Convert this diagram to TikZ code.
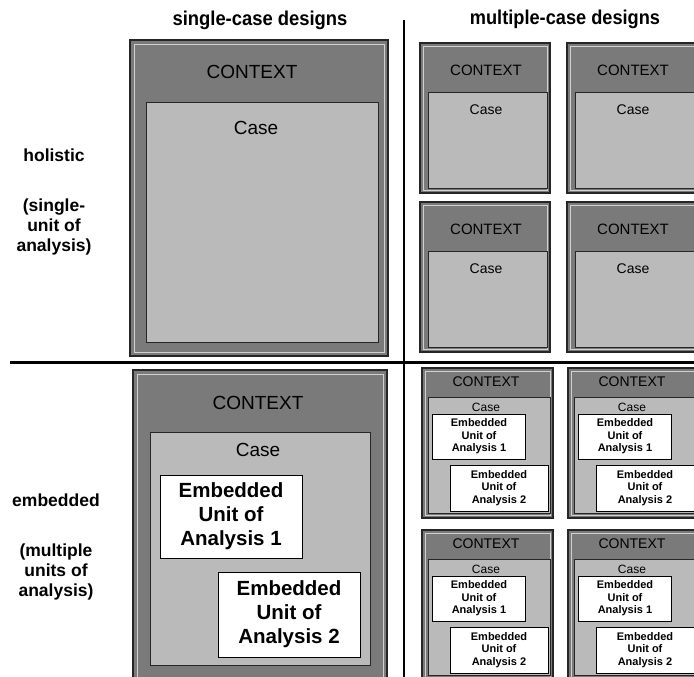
\documentclass[tikz,border=0pt]{standalone}
\usepackage{fontspec}
\setmainfont{Liberation Sans}
\usepackage{graphicx}
\begin{document}
\begin{tikzpicture}[x=1pt,y=-1pt,
  ctxfill/.style={fill=black!52, draw=black!85, line width=1.3pt},
  ctxinset/.style={draw=black!18, line width=0.6pt},
  casefill/.style={fill=black!27, draw=black!85, line width=0.9pt},
  header/.style={inner sep=0pt, font=\bfseries\fontsize{20}{24}\selectfont},
  rowlab/.style={inner sep=0pt, align=center, font=\bfseries\fontsize{17.5}{20}\selectfont},
  ctxL/.style={inner sep=0pt, font=\fontsize{19}{22}\selectfont},
  caseL/.style={inner sep=0pt, font=\fontsize{19}{22}\selectfont},
  ctxS/.style={inner sep=0pt, font=\fontsize{15}{18}\selectfont},
  caseS/.style={inner sep=0pt, font=\fontsize{14}{16}\selectfont},
  ctxT/.style={inner sep=0pt, font=\fontsize{14}{16}\selectfont},
  caseT/.style={inner sep=0pt, font=\fontsize{12}{14}\selectfont},
  euL/.style={draw=black, line width=1pt, fill=white, align=center, inner sep=0pt,
    font=\bfseries\fontsize{20.5}{24}\selectfont},
  euS/.style={draw=black, line width=0.8pt, fill=white, align=center, inner sep=0pt,
    minimum width=93pt, minimum height=45pt, font=\bfseries\fontsize{11}{12.5}\selectfont},
  divider/.style={draw=black, line cap=butt}
]
\useasboundingbox (0,0) rectangle (694,677);
\clip (0,0) rectangle (694,677);
\fill[white] (0,0) rectangle (694,677);

% headers
\node[header] (hsingle) at (260,20) {\scalebox{0.92}[1]{single-case designs}};
\node[header] (hmulti) at (565,19) {\scalebox{0.91}[1]{multiple-case designs}};

% row labels
\node[rowlab] (lhol) at (54,155) {holistic};
\node[rowlab] (lholsub) at (54,227) {(single-\\unit of\\analysis)};
\node[rowlab] (lemb) at (56,500) {embedded};
\node[rowlab] (lembsub) at (56,572) {(multiple\\units of\\analysis)};

% dividers
\coordinate (vtop) at (404,20);
\coordinate (vbot) at (404,677);
\coordinate (hleft) at (10,362);
\coordinate (hright) at (694,362);
\draw[divider, line width=2pt] (vtop) -- (vbot);
\draw[divider, line width=3pt] (hleft) -- (hright);

% ---- single-case holistic
\path[ctxfill] (130,40) rectangle (388,356);
\path[ctxinset] (134,44) rectangle (384,352);
\path[casefill] (146,102) rectangle (378,342);
\node[ctxL] (c1) at (252,72) {CONTEXT};
\node[caseL] (k1) at (256,128) {Case};

% ---- multiple-case holistic
\foreach \bx/\by/\n in {420/43/a,567/43/b,420/202/c,567/202/d}{
  \path[ctxfill] (\bx,\by) rectangle ({\bx+130},{\by+150});
  \path[ctxinset] ({\bx+3},{\by+3}) rectangle ({\bx+127},{\by+147});
  \path[casefill] ({\bx+8},{\by+49}) rectangle ({\bx+127},{\by+145});
  \node[ctxS] (ctx\n) at ({\bx+66},{\by+27}) {CONTEXT};
  \node[caseS] (case\n) at ({\bx+66},{\by+67}) {Case};
}

% ---- single-case embedded
\path[ctxfill] (133,370) rectangle (387,690);
\path[ctxinset] (137,374) rectangle (383,686);
\path[casefill] (150,432) rectangle (370,665);
\node[ctxL] (c2) at (258,403) {CONTEXT};
\node[caseL] (k2) at (258,450) {Case};
\node[euL, minimum width=142pt, minimum height=83pt] (eu1) at (231,516.5)
  {Embedded\\Unit of\\Analysis 1};
\node[euL, minimum width=142pt, minimum height=85pt] (eu2) at (289,614.5)
  {Embedded\\Unit of\\Analysis 2};

% ---- multiple-case embedded
\foreach \bx/\by/\n in {422/368/a,568/368/b,422/530/c,568/530/d}{
  \path[ctxfill] (\bx,\by) rectangle ({\bx+131},{\by+150});
  \path[ctxinset] ({\bx+3},{\by+3}) rectangle ({\bx+128},{\by+147});
  \path[casefill] ({\bx+6},{\by+29}) rectangle ({\bx+128},{\by+145});
  \node[ctxT] (ectx\n) at ({\bx+64},{\by+14}) {CONTEXT};
  \node[caseT] (ecase\n) at ({\bx+64},{\by+39}) {Case};
  \node[euS] (eua\n) at ({\bx+57},{\by+68.5}) {Embedded\\Unit of\\Analysis 1};
  \node[euS, minimum width=98pt, minimum height=46pt] (eub\n) at ({\bx+77},{\by+120}) {Embedded\\Unit of\\Analysis 2};
}
\end{tikzpicture}
\end{document}
